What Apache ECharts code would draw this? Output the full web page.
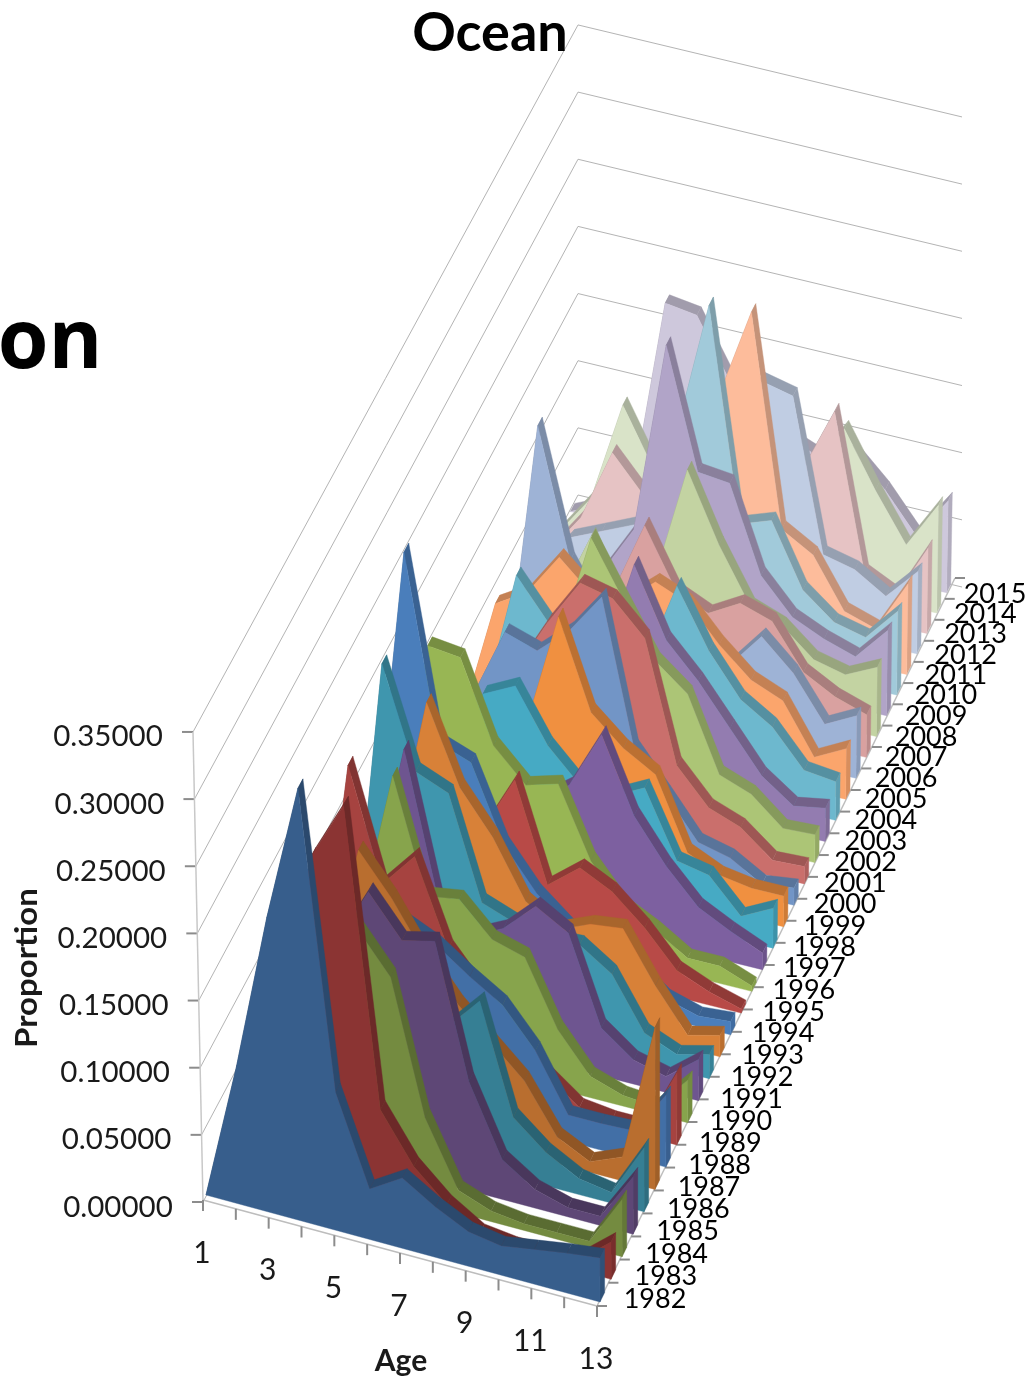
<!DOCTYPE html>
<html>
<head>
<meta charset="utf-8">
<style>html,body{margin:0;padding:0;background:#fff}#chart{width:1029px;height:1379px}</style>
<script src="https://cdn.jsdelivr.net/npm/echarts@6/dist/echarts.min.js"></script>
</head>
<body>
<div id="chart"></div>
<script>
// Age composition by survey year, drawn as a 3-D area chart on a skewed floor.
const ages = [1,2,3,4,5,6,7,8,9,10,11,12,13];
const ageLabels = ['1','3','5','7','9','11','13'];
const valueTicks = [0,0.05,0.10,0.15,0.20,0.25,0.30,0.35];
const years = [];
for (let y = 1982; y <= 2015; y++) years.push(y);

const y1982 = [0,.103,.222,.326,.104,.038,.053,.038,.026,.022,.026,.030,.033];
const y1983 = [0,.05,.15,.258,.303,.081,.045,.023,.008,.005,.005,.008,.028];
const y1984 = [0,.03,.10,.22,.194,.164,.065,.017,.008,.005,.005,.005,.043];
const y1985 = [0,.02,.08,.16,.205,.175,.181,.082,.03,.014,.007,.007,.043];
const y1986 = [0,.02,.06,.12,.10,.10,.10,.126,.045,.025,.012,.008,.048];
const y1987 = [0,.03,.10,.197,.167,.13,.10,.078,.056,.02,.008,.018,.122];
const y1988 = [0,.03,.09,.147,.133,.122,.105,.09,.062,.02,.02,.021,.054];
const y1989 = [0,.04,.222,.139,.166,.103,.075,.045,.027,.009,.006,.006,.054];
const y1990 = [0,.03,.097,.204,.12,.124,.10,.093,.045,.016,.008,.006,.032];
const y1991 = [0,.03,.097,.208,.102,.08,.092,.115,.101,.036,.018,.012,.031];
const y1992 = [0,.02,.25,.175,.165,.089,.08,.075,.076,.06,.022,.012,.018];
const y1993 = [0,.03,.097,.211,.153,.122,.08,.065,.075,.078,.041,.01,.016];
const y1994 = [0,.076,.302,.165,.156,.10,.07,.05,.04,.033,.015,.008,.01];
const y1995 = [0,.02,.05,.075,.09,.133,.06,.079,.067,.046,.02,.01,.003];
const y1996 = [0,.04,.2,.197,.137,.113,.12,.068,.04,.028,.013,.013,.004];
const y1997 = [0,.04,.10,.13,.10,.085,.103,.147,.092,.06,.035,.023,.0125];
const y1998 = [0,.02,.08,.138,.15,.111,.087,.085,.097,.048,.043,.018,.03];
const y1999 = [0,.02,.06,.085,.105,.192,.126,.105,.091,.038,.027,.023,.023];
const y2000 = [0,.02,.10,.153,.145,.166,.197,.089,.06,.03,.024,.01,.013];
const y2001 = [0,.02,.06,.11,.151,.186,.18,.156,.066,.04,.031,.012,.013];
const y2002 = [0,.02,.05,.09,.121,.204,.163,.123,.104,.049,.04,.02,.021];
const y2003 = [0,.02,.05,.08,.09,.096,.174,.123,.098,.068,.038,.021,.025];
const y2004 = [0,.03,.128,.098,.08,.08,.085,.148,.105,.074,.059,.032,.029];
const y2005 = [0,.086,.10,.132,.11,.11,.13,.12,.094,.073,.063,.026,.038];
const y2006 = [0,.015,.21,.114,.075,.103,.09,.08,.063,.09,.068,.035,.047];
const y2007 = [0,.02,.05,.082,.08,.136,.092,.081,.094,.086,.053,.04,.032];
const y2008 = [0,.01,.05,.102,.051,.082,.168,.117,.076,.067,.047,.041,.052];
const y2009 = [0,.01,.03,.06,.097,.241,.151,.148,.084,.058,.047,.039,.064];
const y2010 = [0,.01,.03,.05,.07,.16,.261,.102,.11,.063,.044,.038,.063];
const y2011 = [0,.01,.02,.04,.05,.07,.178,.246,.088,.074,.037,.029,.068];
const y2012 = [0,.03,.04,.05,.06,.09,.15,.179,.173,.059,.053,.038,.062];
const y2013 = [0,.03,.084,.057,.06,.08,.09,.09,.102,.151,.035,.023,.064];
const y2014 = [0,.03,.105,.061,.07,.08,.09,.09,.09,.123,.082,.046,.081];
const y2015 = [0,.01,.03,.172,.168,.126,.11,.09,.08,.09,.067,.038,.069];

const yearValues = [y1982,y1983,y1984,y1985,y1986,y1987,y1988,y1989,y1990,y1991,y1992,y1993,
  y1994,y1995,y1996,y1997,y1998,y1999,y2000,y2001,y2002,y2003,y2004,y2005,y2006,y2007,y2008,
  y2009,y2010,y2011,y2012,y2013,y2014,y2015];

// Six theme hues, cycled through six tints from dark to pale.
const tints = [
  ['#375E8C','#8B3433','#748B40','#5E4776','#367F94','#B96E2F'],
  ['#426FA6','#A64340','#87A44C','#6E5590','#3F96AE','#D88138'],
  ['#4A7EBB','#B84A47','#98B654','#7D60A0','#46AAC4','#F09040'],
  ['#7295C6','#CA6F6C','#ACC576','#937CB0','#6DB8CE','#FBA56C'],
  ['#9EB3D6','#D9A1A0','#C3D3A2','#B1A4C8','#A1CADA','#FDBC9B'],
  ['#C0CDE3','#E6C3C4','#D9E3C8','#CEC8DC','#C8E0E8','#FCD5B8']
];

// Floor corners and the depth of one series slab, in canvas units.
const FL = [206,1195], FR = [600,1302], BR = [954,577.5], BL = [578,497];
const DEPTH_SLOTS = 33.75, SLAB = 0.42, Z_SCALE = 1330;
// Depth foreshortens slightly towards the back wall.
const depthAt = (slot) => (22.7 * slot - 0.0365 * slot * slot) / 724.5;

function project(age, slot, value) {
  const u = (age - 1) / 12, v = depthAt(slot);
  const lerp = (k) => (1-v)*((1-u)*FL[k] + u*FR[k]) + v*((1-u)*BL[k] + u*BR[k]);
  const lean = (1-v)*((1-u)*-9 + u*-1) + v*(u*8);
  return [lerp(0) + lean * value / 0.35, lerp(1) - value * Z_SCALE];
}

function shade(hex, k) {
  const n = parseInt(hex.slice(1), 16);
  const c = [n >> 16, (n >> 8) & 255, n & 255].map(x => Math.round(x * k));
  return 'rgb(' + c.join(',') + ')';
}

function poly(api, pts, fill) {
  return { type: 'polygon', shape: { points: pts.map(p => api.coord(p)) },
           style: { fill: fill, stroke: fill, lineWidth: 0.4 } };
}

// One slab per year: top strips and end cap first, then the front face over them.
function slabRenderer(i) {
  const values = yearValues[i];
  const color = tints[Math.floor(i / 6)][i % 6];
  return function (params, api) {
    if (params.dataIndex !== values.length - 1) return { type: 'group', children: [] };
    const front = values.map((val, a) => project(ages[a], i, val));
    const back = values.map((val, a) => project(ages[a], i + SLAB, val));
    const kids = [];
    for (let a = 0; a < values.length - 1; a++) {
      kids.push(poly(api, [front[a], front[a+1], back[a+1], back[a]], shade(color, 0.78)));
    }
    const last = ages.length;
    kids.push(poly(api, [project(last, i, 0), project(last, i + SLAB, 0), back[last-1], front[last-1]], shade(color, 0.86)));
    kids.push(poly(api, [project(1, i, 0)].concat(front, [project(last, i, 0)]), color));
    return { type: 'group', children: kids };
  };
}

// Wall gridlines, ticks and tick labels, all derived from the tick arrays.
const WALL = { front: [203,1202,-10], corner: [578,495,0], right: [962,587,0], perUnit: 1343 };
function wallRenderer(params, api) {
  const kids = [];
  const line = (a, b, color, w) => ({ type: 'line', shape: { x1: api.coord(a)[0], y1: api.coord(a)[1], x2: api.coord(b)[0], y2: api.coord(b)[1] },
    style: { stroke: color, lineWidth: w || 1 } });
  const text = (t, p, size, extra) => ({ type: 'text', x: api.coord(p)[0], y: api.coord(p)[1],
    style: Object.assign({ text: t, fill: '#1a1a1a', font: size + 'px Lato', align: 'center', verticalAlign: 'middle' }, extra || {}) });
  const spot = (w, z) => [w[0] + w[2] * z / 0.35, w[1] - z * WALL.perUnit];
  valueTicks.forEach((z, k) => {
    const f = spot(WALL.front, z), c = spot(WALL.corner, z), r = spot(WALL.right, z);
    kids.push(line(f, c, '#B4B4B4'), line(c, r, '#B4B4B4'), line([f[0]-11, f[1]], f, '#8C8C8C', 2));
    kids.push(text(z.toFixed(5), [f[0]-85, f[1]+5], 29.5));
  });
  kids.push(line(spot(WALL.front, 0), spot(WALL.front, 0.35), '#C8C8C8', 1.5));
  const axisL = [203,1200], axisR = [597,1306], axisB = [955,578];
  kids.push(line(axisL, axisR, '#BDBDBD', 1.5), line(axisR, axisB, '#BDBDBD', 1.5));
  ages.forEach((age, k) => {
    const t = k / 12, p = [axisL[0] + (axisR[0]-axisL[0])*t, axisL[1] + (axisR[1]-axisL[1])*t];
    kids.push(line(p, [p[0], p[1]+11], '#8C8C8C', 2));
  });
  ageLabels.forEach((s) => {
    const t = (Number(s) - 1) / 12;
    kids.push(text(s, [axisL[0] + (axisR[0]-axisL[0])*t - 1, axisL[1] + (axisR[1]-axisL[1])*t + 53], 30));
  });
  years.forEach((yr, k) => {
    const t = (22.7 * k - 0.0365 * k * k) / (22.7 * 33 - 0.0365 * 33 * 33);
    const p = [axisR[0] + (axisB[0]-axisR[0])*t, axisR[1] + (axisB[1]-axisR[1])*t];
    const q = [655 + 340 * t, 1299 - 705 * t];
    kids.push(line(p, [p[0]+10, p[1]], '#8C8C8C', 2));
    kids.push(text(String(yr), q, 27, { fill: '#000' }));
  });
  kids.push(text('Ocean', [490, 34], 54, { font: 'bold 54px Lato', fill: '#000' }));
  kids.push(text('on', [50, 345], 82, { font: 'bold 82px "Open Sans"', fill: '#000' }));
  kids.push(text('Age', [401, 1361], 30, { font: 'bold 30px Lato' }));
  const prop = text('Proportion', [27, 968], 30, { font: 'bold 30px Lato' });
  prop.rotation = Math.PI / 2;
  prop.scaleX = 1.1;
  kids.push(prop);
  return { type: 'group', children: kids };
}

const series = [{
  type: 'custom', coordinateSystem: 'cartesian2d', silent: true, clip: false,
  data: [[0, 0]], renderItem: wallRenderer, z: 1
}];
for (let i = yearValues.length - 1; i >= 0; i--) {
  series.push({
    name: String(years[i]), type: 'custom', coordinateSystem: 'cartesian2d', silent: true, clip: false,
    data: yearValues[i].map((val, a) => [ages[a], val]),
    renderItem: slabRenderer(i), z: 2 + (yearValues.length - i)
  });
}

const chart = echarts.init(document.getElementById('chart'), null, { renderer: 'canvas' });
chart.setOption({
  animation: false,
  backgroundColor: '#ffffff',
  grid: { left: 0, right: 0, top: 0, bottom: 0 },
  xAxis: { type: 'value', min: 0, max: 1029, show: false },
  yAxis: { type: 'value', min: 0, max: 1379, inverse: true, show: false },
  series: series
});
</script>
</body>
</html>
